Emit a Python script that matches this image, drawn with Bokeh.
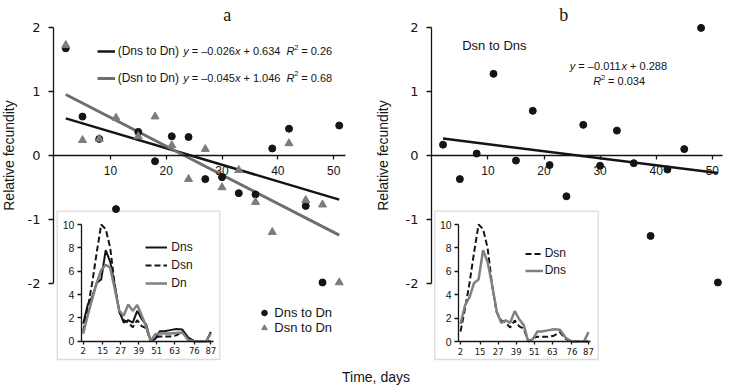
import math
from bokeh.plotting import figure
from bokeh.models import (LinearAxis, FixedTicker, Label, Legend, LegendItem,
                          Range1d, BoxAnnotation, Div)
from bokeh.layouts import row, column
from bokeh.embed import file_html
from bokeh.resources import INLINE

# ---------------- data ----------------
days = [2, 5, 8, 11, 15, 18, 21, 24, 27, 30, 33, 36, 39, 42, 45, 48, 51]
dns_to_dn = [1.68, 0.61, 0.26, -0.84, 0.37, -0.09, 0.30, 0.29, -0.37, -0.34,
             -0.59, -0.61, 0.11, 0.42, -0.79, -1.99, 0.47]
dsn_to_dn = [1.73, 0.24, 0.26, 0.59, 0.30, 0.61, 0.16, -0.37, 0.10, -0.50,
             -0.23, -0.73, -1.20, 0.19, -0.70, -0.77, -1.99]
dsn_to_dns = [0.17, -0.37, 0.03, 1.28, -0.08, 0.70, -0.15, -0.64, 0.48, -0.16,
              0.39, -0.12, -1.26, -0.22, 0.10, 2.00, -1.99]

fit_dns_dn = (-0.026, 0.634)
fit_dsn_dn = (-0.045, 1.046)
fit_dsn_dns = (-0.011, 0.288)

main_xticks = [10, 20, 30, 40, 50]
main_yticks = [-2, -1, 0, 1, 2]

inset_days = [2, 5, 8, 11, 14, 17, 20, 23, 26, 29, 32, 35, 38, 41, 44, 47, 50,
              53, 56, 60, 64, 68, 72, 76, 80, 84, 87]
inset_dsn = [0.85, 2.8, 5.0, 7.6, 10.0, 9.6, 8.0, 4.8, 2.5, 1.8, 1.6, 1.2, 1.8,
             1.3, 1.1, 0.0, 0.3, 0.4, 0.4, 0.4, 0.5, 0.8, 0.2, 0.0, 0.0, 0.0, 0.0]
inset_dns = [1.5, 3.1, 3.8, 5.0, 5.3, 7.8, 6.8, 4.8, 2.6, 1.6, 1.8, 1.6, 2.6,
             1.9, 1.4, 0.0, 0.2, 0.85, 0.85, 0.95, 1.05, 1.0, 0.3, 0.0, 0.0, 0.0, 0.8]
inset_dn = [0.65, 2.2, 3.6, 5.0, 6.1, 6.55, 6.3, 4.5, 2.6, 2.2, 3.15, 2.6, 3.1,
            2.2, 1.2, 0.0, 0.6, 0.65, 0.65, 0.65, 0.7, 0.75, 0.1, 0.0, 0.0, 0.0, 0.65]
inset_xticks = [2, 15, 27, 39, 51, 63, 76, 87]
inset_yticks = [0, 2, 4, 6, 8, 10]

BLACK = "#141414"
GRAY = "#6e6e6e"
GRAY_PT = "#7c7c7c"
GRAY_IN = "#808080"
SANS = "Liberation Sans"

H = 370          # height of the two panels (page px)
Y_ZERO = 155     # page y of value 0
Y_SCALE = 63.81  # px per unit


def fit_line(fit, xs):
    x = [min(xs), max(xs)]
    return x, [fit[0] * v + fit[1] for v in x]


def style_axis(ax, font, size, standoff, tick_out):
    ax.axis_line_color = BLACK
    ax.axis_line_width = 1.3
    ax.major_tick_line_color = BLACK
    ax.major_tick_line_width = 1.3
    ax.major_tick_out = tick_out
    ax.major_tick_in = 0
    ax.minor_tick_out = 0
    ax.minor_tick_in = 0
    ax.major_label_text_font = font
    ax.major_label_text_font_size = size
    ax.major_label_text_color = BLACK
    ax.major_label_standoff = standoff


class Panel:
    def __init__(self, page_left, width, x_zero_page, x_scale, axis_page, x_end):
        self.pl, self.w = page_left, width
        self.xz, self.xs = x_zero_page, x_scale
        x0 = (page_left - x_zero_page) / x_scale
        x1 = (page_left + width - x_zero_page) / x_scale
        y1 = Y_ZERO / Y_SCALE
        y0 = -(H - Y_ZERO) / Y_SCALE
        self.p = figure(width=width, height=H, x_range=Range1d(x0, x1),
                        y_range=Range1d(y0, y1), x_axis_type=None,
                        y_axis_type=None, output_backend="svg",
                        toolbar_location=None, min_border_left=0,
                        min_border_right=0, min_border_top=0, min_border_bottom=0)
        p = self.p
        p.outline_line_color = None
        ax_x = (axis_page - x_zero_page) / x_scale
        ya = LinearAxis(ticker=FixedTicker(ticks=main_yticks), bounds=(-2, 2),
                        fixed_location=ax_x,
                        major_label_overrides={-2: "-2", -1: "-1", 0: "0",
                                               1: "1", 2: "2"})
        style_axis(ya, "DejaVu Sans", "13px", 8, 5)
        p.add_layout(ya, "left")
        xa = LinearAxis(ticker=FixedTicker(ticks=main_xticks), fixed_location=0,
                        bounds=(ax_x, x_end))
        style_axis(xa, SANS, "12px", 6, 4)
        p.add_layout(xa, "below")

    def conv(self, px, py):
        return (px - self.xz) / self.xs, (Y_ZERO - py) / Y_SCALE

    def label(self, px, py, text, size="11px", style="normal", align="left",
              font=SANS, angle=0.0, baseline="middle"):
        x, y = self.conv(px, py)
        self.p.add_layout(Label(x=x, y=y, text=text, text_font=font,
                                text_font_size=size, text_font_style=style,
                                text_align=align, text_baseline=baseline,
                                angle=angle, text_color=BLACK))

    def equation(self, px, py, parts):
        for text, it, off, size, dy in parts:
            self.label(px + off, py + dy, text, size=size,
                       style="italic" if it else "normal")

    def legend(self, items, left, top, n, item_h, spacing, **kw):
        height = n * item_h + (n - 1) * spacing
        loc = (left - self.pl, H - (top + height))
        self.p.add_layout(Legend(items=items, location=loc, padding=0, margin=0,
                                 spacing=spacing, glyph_height=item_h,
                                 label_height=item_h, label_text_font=SANS,
                                 label_text_color=BLACK, border_line_color=None,
                                 background_fill_alpha=0, **kw))

    def inset(self, box, xmap, ymap):
        (va, pa_), (vb, pb_) = xmap
        s = (pb_ - pa_) / (vb - va)
        self.p.extra_x_ranges["ins"] = Range1d(va + (self.pl - pa_) / s,
                                               va + (self.pl + self.w - pa_) / s)
        (wa, qa), (wb, qb) = ymap
        t = (qb - qa) / (wb - wa)
        self.p.extra_y_ranges["ins"] = Range1d(wa + (H - qa) / t,
                                               wa + (0 - qa) / t)
        l, tp = self.conv(box[0], box[1])
        r, b = self.conv(box[2], box[3])
        self.p.add_layout(BoxAnnotation(left=l, right=r, top=tp, bottom=b,
                                        fill_color="white", fill_alpha=1,
                                        line_color="#8c8c8c", line_width=1.3,
                                        level="underlay"))
        ya = LinearAxis(ticker=FixedTicker(ticks=inset_yticks), bounds=(0, 10),
                        fixed_location=0.8, x_range_name="ins",
                        y_range_name="ins")
        style_axis(ya, SANS, "10.5px", 3, 4)
        self.p.add_layout(ya, "left")
        xa = LinearAxis(ticker=FixedTicker(ticks=inset_xticks),
                        bounds=(0.8, 88.6), fixed_location=0,
                        x_range_name="ins", y_range_name="ins")
        style_axis(xa, "DejaVu Sans", "8.5px", 3, 3)
        self.p.add_layout(xa, "below")

    def iline(self, ys, **kw):
        return self.p.line(inset_days, ys, x_range_name="ins",
                           y_range_name="ins", **kw)


SP = 3.06  # width of a space at 11px


def eq_parts(m, b, r2=None):
    parts = [("y", True, 0, "11px", 0),
             ("= \u2013" + m, False, 5.5 + SP, "11px", 0),
             ("x", True, 51.7, "11px", 0),
             ("+ " + b, False, 57.2 + SP, "11px", 0)]
    if r2 is not None:
        parts += [("R", True, 103.2, "11px", 0),
                  ("2", False, 111.1, "7.5px", -4),
                  ("= " + r2, False, 115.0 + SP, "11px", 0)]
    return parts


# ---------------- panel a ----------------
A = Panel(0, 370, 54.1, 5.581, 53, 52.2)
pa = A.p
xs, ys = fit_line(fit_dns_dn, days)
r_fit1 = pa.line(xs, ys, line_color=BLACK, line_width=2.5)
xs, ys = fit_line(fit_dsn_dn, days)
r_fit2 = pa.line(xs, ys, line_color=GRAY, line_width=3)
r_c = pa.scatter(days, dns_to_dn, marker="circle", size=7, fill_color=BLACK,
                 line_color=BLACK)
r_t = pa.scatter(days, dsn_to_dn, marker="triangle", size=8, fill_color=GRAY_PT,
                 line_color=GRAY_PT)

A.legend([LegendItem(label="(Dns to Dn)", renderers=[r_fit1]),
          LegendItem(label="(Dsn to Dn)", renderers=[r_fit2])],
         96.7, 42.7, 2, 16, 11, glyph_width=18, label_standoff=3,
         label_text_font_size="12px")
A.legend([LegendItem(label="Dns to Dn", renderers=[r_c]),
          LegendItem(label="Dsn to Dn", renderers=[r_t])],
         257.3, 307.5, 2, 15, -3, glyph_width=14, label_standoff=3,
         label_text_font_size="13px")

A.equation(182.7, 50.7, eq_parts("0.026", "0.634", "0.26"))
A.equation(182.7, 77.3, eq_parts("0.045", "1.046", "0.68"))
A.label(226.7, 14, "a", size="18px", align="center", font="Liberation Serif",
        baseline="alphabetic")
A.label(8, 155, "Relative fecundity", size="14px", align="center",
        angle=math.pi / 2)

A.inset((56.7, 210.7, 219.3, 359), ((2, 82.7), (87, 210.3)),
        ((0, 340.7), (10, 224)))
r1 = A.iline(inset_dns, line_color=BLACK, line_width=2)
r2 = A.iline(inset_dsn, line_color=BLACK, line_width=2, line_dash="6 3")
r3 = A.iline(inset_dn, line_color=GRAY_IN, line_width=2.5)
A.legend([LegendItem(label="Dns", renderers=[r1]),
          LegendItem(label="Dsn", renderers=[r2]),
          LegendItem(label="Dn", renderers=[r3])],
         145.3, 239.3, 3, 16, 2, glyph_width=22, label_standoff=4,
         label_text_font_size="12px")

# ---------------- panel b ----------------
B = Panel(370, 359, 431.3, 5.61, 431, 51.75)
pb = B.p
xs, ys = fit_line(fit_dsn_dns, days)
pb.line(xs, ys, line_color=BLACK, line_width=2.5)
pb.scatter(days, dsn_to_dns, marker="circle", size=7, fill_color=BLACK,
           line_color=BLACK)

B.label(461.7, 45, "Dsn to Dns", size="13px")
B.equation(569.3, 65.7, eq_parts("0.011", "0.288"))
B.equation(592.7, 80.5, [("R", True, 0, "11px", 0),
                         ("2", False, 7.9, "7.5px", -4),
                         ("= 0.034", False, 11.8 + SP, "11px", 0)])
B.label(563.3, 14, "b", size="18px", align="center", font="Liberation Serif",
        baseline="alphabetic")
B.label(382, 155, "Relative fecundity", size="14px", align="center",
        angle=math.pi / 2)

B.inset((434.3, 210.7, 597.7, 359), ((2, 460), (87, 588)),
        ((0, 341), (10, 224)))
s1 = B.iline(inset_dsn, line_color=BLACK, line_width=2, line_dash="6 3")
s2 = B.iline(inset_dns, line_color=GRAY_IN, line_width=2.5)
B.legend([LegendItem(label="Dsn", renderers=[s1]),
          LegendItem(label="Dns", renderers=[s2])],
         524.7, 245.5, 2, 15, 2, glyph_width=18, label_standoff=2,
         label_text_font_size="12px")

xlabel = Div(text="Time, days", width=120, height=14, margin=(0, 0, 0, 316),
             styles={"font-family": SANS, "font-size": "14px",
                     "text-align": "center", "line-height": "14px",
                     "color": BLACK, "white-space": "nowrap"})

layout = column(row(pa, pb), xlabel)

open("out.html", "w").write(file_html(layout, INLINE))
